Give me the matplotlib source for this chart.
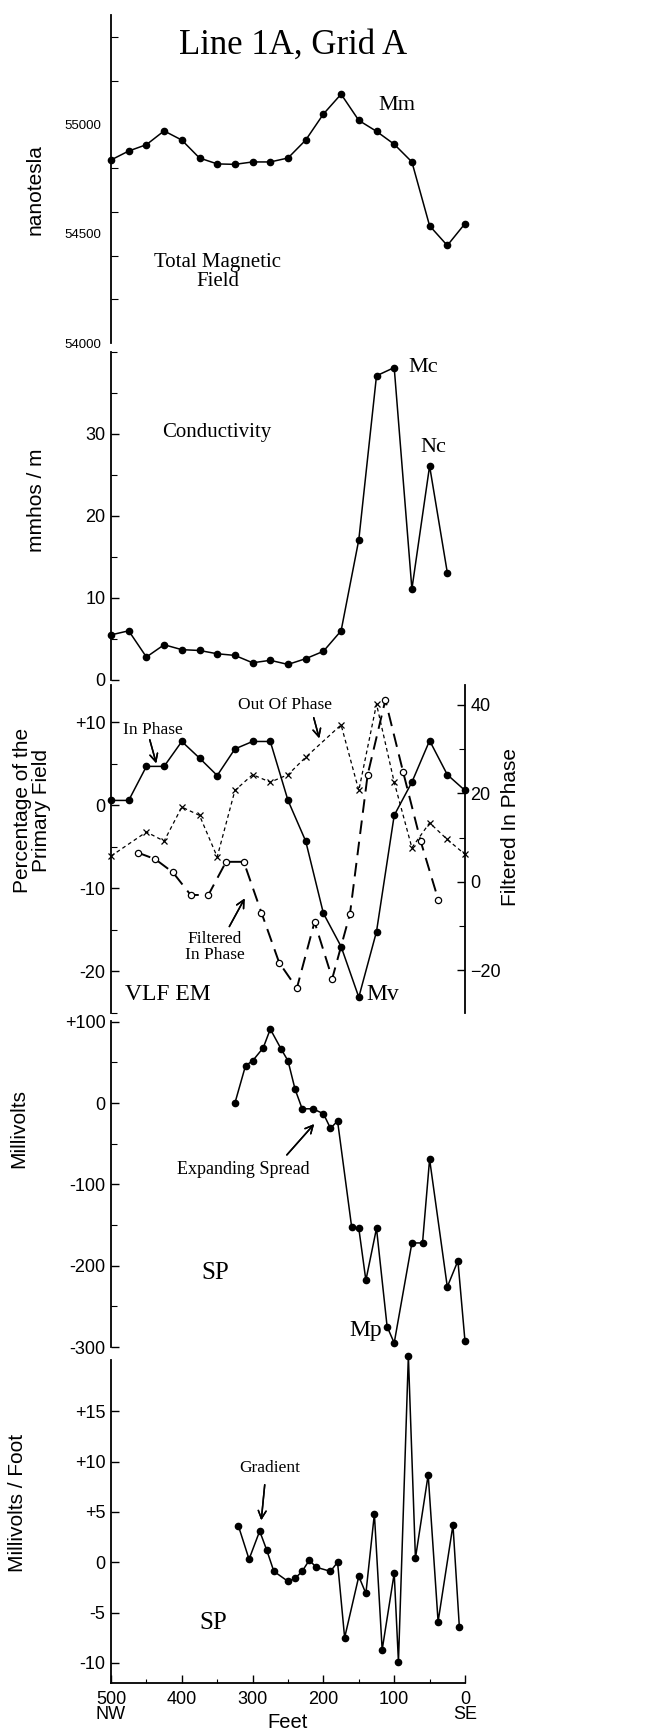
import numpy as np
import matplotlib.pyplot as plt

plt.rcParams['font.family'] = ['Liberation Sans', 'DejaVu Sans']
SERIF = ['Liberation Serif', 'DejaVu Serif']

# ---- data (feet from SE end) ----
mag_ft = [500, 475, 450, 425, 400, 375, 350, 325, 300, 275, 250,
          225, 200, 175, 150, 125, 100, 75, 50, 25, 0]
mag_nt = [54837, 54878, 54907, 54970, 54928, 54846, 54819, 54817, 54828, 54828, 54846,
          54928, 55047, 55138, 55018, 54968, 54909, 54828, 54536, 54446, 54546]

cond_ft = [500, 475, 450, 425, 400, 375, 350, 325, 300, 275,
           250, 225, 200, 175, 150, 125, 100, 75, 50, 25]
cond = [5.5, 6.0, 2.8, 4.3, 3.7, 3.6, 3.2, 3.0, 2.1, 2.4,
        1.9, 2.6, 3.5, 6.0, 17.1, 37.1, 38.1, 11.1, 26.1, 13.1]

inph_ft = [500, 475, 450, 425, 400, 375, 350, 325, 300, 275, 250,
           225, 200, 175, 150, 125, 100, 75, 50, 25, 0]
inph = [0.6, 0.6, 4.7, 4.7, 7.7, 5.7, 3.6, 6.8, 7.7, 7.7, 0.6,
        -4.3, -13.0, -17.0, -23.1, -15.2, -1.2, 2.8, 7.8, 3.7, 1.8]

outph_ft = [500, 450, 425, 400, 375, 350, 325, 300, 275, 250,
            225, 175, 150, 125, 100, 75, 50, 25, 0]
outph = [-6.1, -3.2, -4.3, -0.2, -1.2, -6.2, 1.8, 3.7, 2.8, 3.7,
         5.8, 9.7, 1.8, 12.2, 2.8, -5.1, -2.1, -4.1, -5.9]

filt_ft = [462.5, 437.5, 412.5, 387.5, 362.5, 337.5, 312.5, 287.5, 262.5,
           237.5, 212.5, 187.5, 162.5, 137.5, 112.5, 87.5, 62.5, 37.5]
filt = [6.6, 5.1, 2.1, -3.0, -3.0, 4.5, 4.5, -7.0, -18.3,
        -24.1, -9.1, -21.9, -7.3, 24.2, 41.1, 24.9, 9.1, -4.2]

sp_ft = [325, 310, 300, 285, 275, 260, 250, 240, 230, 215, 200, 190, 180,
         160, 150, 140, 125, 110, 100, 75, 60, 50, 25, 10, 0]
sp_mv = [0, 46, 52, 68, 91, 67, 52, 17, -7, -7, -13, -31, -22,
         -153, -154, -218, -154, -275, -295, -172, -172, -69, -226, -194, -293]

grad_ft = [320, 305, 290, 280, 270, 250, 240, 230, 220, 210, 190, 180, 170,
           150, 140, 128, 117, 100, 94, 80, 70, 52, 38, 17, 8]
grad = [3.6, 0.3, 3.1, 1.2, -0.9, -1.9, -1.6, -0.9, 0.2, -0.5, -0.9, 0.0, -7.5,
        -1.4, -3.1, 4.8, -8.7, -1.1, -9.9, 20.5, 0.4, 8.7, -5.9, 3.7, -6.4]

W, H = 647, 1735
fig = plt.figure(figsize=(W / 100, H / 100), dpi=100)


def box(top, bottom, left=111, right=465):
    return [left / W, 1 - bottom / H, (right - left) / W, (bottom - top) / H]


def fx(x):
    return x / W


def fy(y):
    return 1 - y / H


def style(ax, show_bottom=False):
    for s in ['top', 'right', 'bottom']:
        ax.spines[s].set_visible(False)
    ax.spines['bottom'].set_visible(show_bottom)
    ax.spines['left'].set_linewidth(1.3)
    ax.set_xlim(500, 0)
    ax.patch.set_alpha(0)
    ax.tick_params(axis='y', which='major', direction='in', length=6, width=1,
                   labelsize=13, pad=4)
    ax.tick_params(axis='y', which='minor', direction='in', length=4, width=0.8)
    if not show_bottom:
        ax.set_xticks([])


def ftext(x, y, s, size, fam=SERIF, **kw):
    fig.text(fx(x), fy(y), s, fontsize=size, family=fam, ha='center', va='center', **kw)


def arrow(x0, y0, x1, y1):
    fig.add_artist(plt.annotate('', xy=(fx(x1), fy(y1)), xytext=(fx(x0), fy(y0)),
                                xycoords='figure fraction', textcoords='figure fraction',
                                arrowprops=dict(arrowstyle='->', lw=1.1, color='black',
                                                mutation_scale=14)))


mk = dict(color='black', lw=1.1, marker='o', markersize=4.5, clip_on=False)

# 1. total magnetic field
ax1 = fig.add_axes(box(15, 343))
style(ax1)
ax1.plot(mag_ft, mag_nt, **mk)
ax1.set_ylim(54000, 55500)
ax1.set_yticks([54000, 54500, 55000])
ax1.set_yticklabels(['54000', '54500', '55000'])
ax1.set_yticks(np.arange(54000, 55401, 200), minor=True)
ax1.tick_params(axis='y', which='major', length=0, labelsize=9.5, pad=7)
ax1.tick_params(axis='y', which='minor', length=5)

# 2. conductivity
ax2 = fig.add_axes(box(352, 680))
style(ax2)
ax2.plot(cond_ft, cond, **mk)
ax2.set_ylim(0, 40)
ax2.set_yticks([0, 10, 20, 30])
ax2.set_yticks([5, 15, 25, 35, 40], minor=True)

# 3. VLF EM
ax3 = fig.add_axes(box(685, 1013))
style(ax3)
ax3r = ax3.twinx()
for s in ['top', 'left', 'bottom']:
    ax3r.spines[s].set_visible(False)
ax3r.spines['right'].set_linewidth(1.3)
ax3.plot(inph_ft, inph, **mk)
ax3.plot(outph_ft, outph, color='black', lw=0.9, ls=(0, (3, 2.5)), marker='x',
         markersize=4.5, markeredgewidth=0.9, clip_on=False)
ax3r.plot(filt_ft, filt, color='black', lw=1.4, ls=(0, (7, 4)), marker='o',
          markersize=4.5, markerfacecolor='white', markeredgewidth=0.9, clip_on=False)
ax3.set_ylim(-25, 14.5)
ax3.set_yticks([-20, -10, 0, 10])
ax3.set_yticklabels(['-20', '-10', '0', '+10'])
ax3.set_yticks([-15, -5, 5, -25], minor=True)
ax3r.set_xlim(500, 0)
ax3r.set_ylim(-29.7, 44.5)
ax3r.set_yticks([-20, 0, 20, 40])
ax3r.set_yticks([-10, 10, 30], minor=True)
ax3r.tick_params(axis='y', which='major', direction='in', length=6, width=1,
                 labelsize=13, pad=4)
ax3r.tick_params(axis='y', which='minor', direction='in', length=4, width=0.8)

# 4. SP
ax4 = fig.add_axes(box(1021, 1347))
style(ax4)
ax4.plot(sp_ft, sp_mv, **mk)
ax4.set_ylim(-300, 101)
ax4.set_yticks([-300, -200, -100, 0, 100])
ax4.set_yticklabels(['-300', '-200', '-100', '0', '+100'])
ax4.set_yticks([-250, -150, -50, 50], minor=True)

# 5. SP gradient
ax5 = fig.add_axes(box(1360, 1683))
style(ax5, show_bottom=True)
ax5.spines['bottom'].set_linewidth(1.3)
ax5.plot(grad_ft, grad, **mk)
ax5.set_ylim(-12, 20.1)
ax5.set_yticks([-10, -5, 0, 5, 10, 15])
ax5.set_yticklabels(['-10', '-5', '0', '+5', '+10', '+15'])
ax5.set_xticks([500, 400, 300, 200, 100, 0])
ax5.set_xticklabels(['500\nNW', '400', '300', '200', '100', '0\nSE'],
                    linespacing=0.8)
ax5.set_xticks([450, 350, 250, 150, 50], minor=True)
ax5.tick_params(axis='x', which='major', direction='in', length=6, width=1,
                labelsize=13, pad=6)
ax5.tick_params(axis='x', which='minor', direction='in', length=3, width=0.8)
for lab in ax5.get_xticklabels():
    lab.set_va('top')

# axis titles
ftext(35, 190, 'nanotesla', 15, fam=None, rotation=90)
ftext(37, 500, 'mmhos / m', 15, fam=None, rotation=90)
ftext(32, 810, 'Percentage of the\nPrimary Field', 15, fam=None, rotation=90,
      linespacing=0.95)
ftext(510, 827, 'Filtered In Phase', 15, fam=None, rotation=90)
ftext(19, 1128, 'Millivolts', 15, fam=None, rotation=90)
ftext(18, 1503, 'Millivolts / Foot', 15, fam=None, rotation=90)
ftext(288, 1722, 'Feet', 14.5, fam=None)

# annotations
ftext(293, 45, 'Line 1A, Grid A', 25)
ftext(397, 105, 'Mm', 16)
ftext(218, 272, 'Total Magnetic\nField', 15, linespacing=0.95)
ftext(217, 432, 'Conductivity', 15)
ftext(423, 367, 'Mc', 16)
ftext(433, 448, 'Nc', 16)
ftext(153, 730, 'In Phase', 12.5)
arrow(149, 737, 157, 766)
ftext(285, 705, 'Out Of Phase', 12.5)
arrow(313, 715, 320, 741)
ftext(215, 947, 'Filtered\nIn Phase', 12.5, linespacing=0.95)
arrow(228, 929, 246, 896)
ftext(168, 994, 'VLF EM', 17)
ftext(383, 995, 'Mv', 17)
ftext(243, 1170, 'Expanding Spread', 13)
arrow(285, 1157, 316, 1122)
ftext(215, 1273, 'SP', 18)
ftext(366, 1330, 'Mp', 17)
ftext(270, 1468, 'Gradient', 12.5)
arrow(265, 1482, 261, 1523)
ftext(213, 1623, 'SP', 18)

fig.savefig('out.png', dpi=100)
